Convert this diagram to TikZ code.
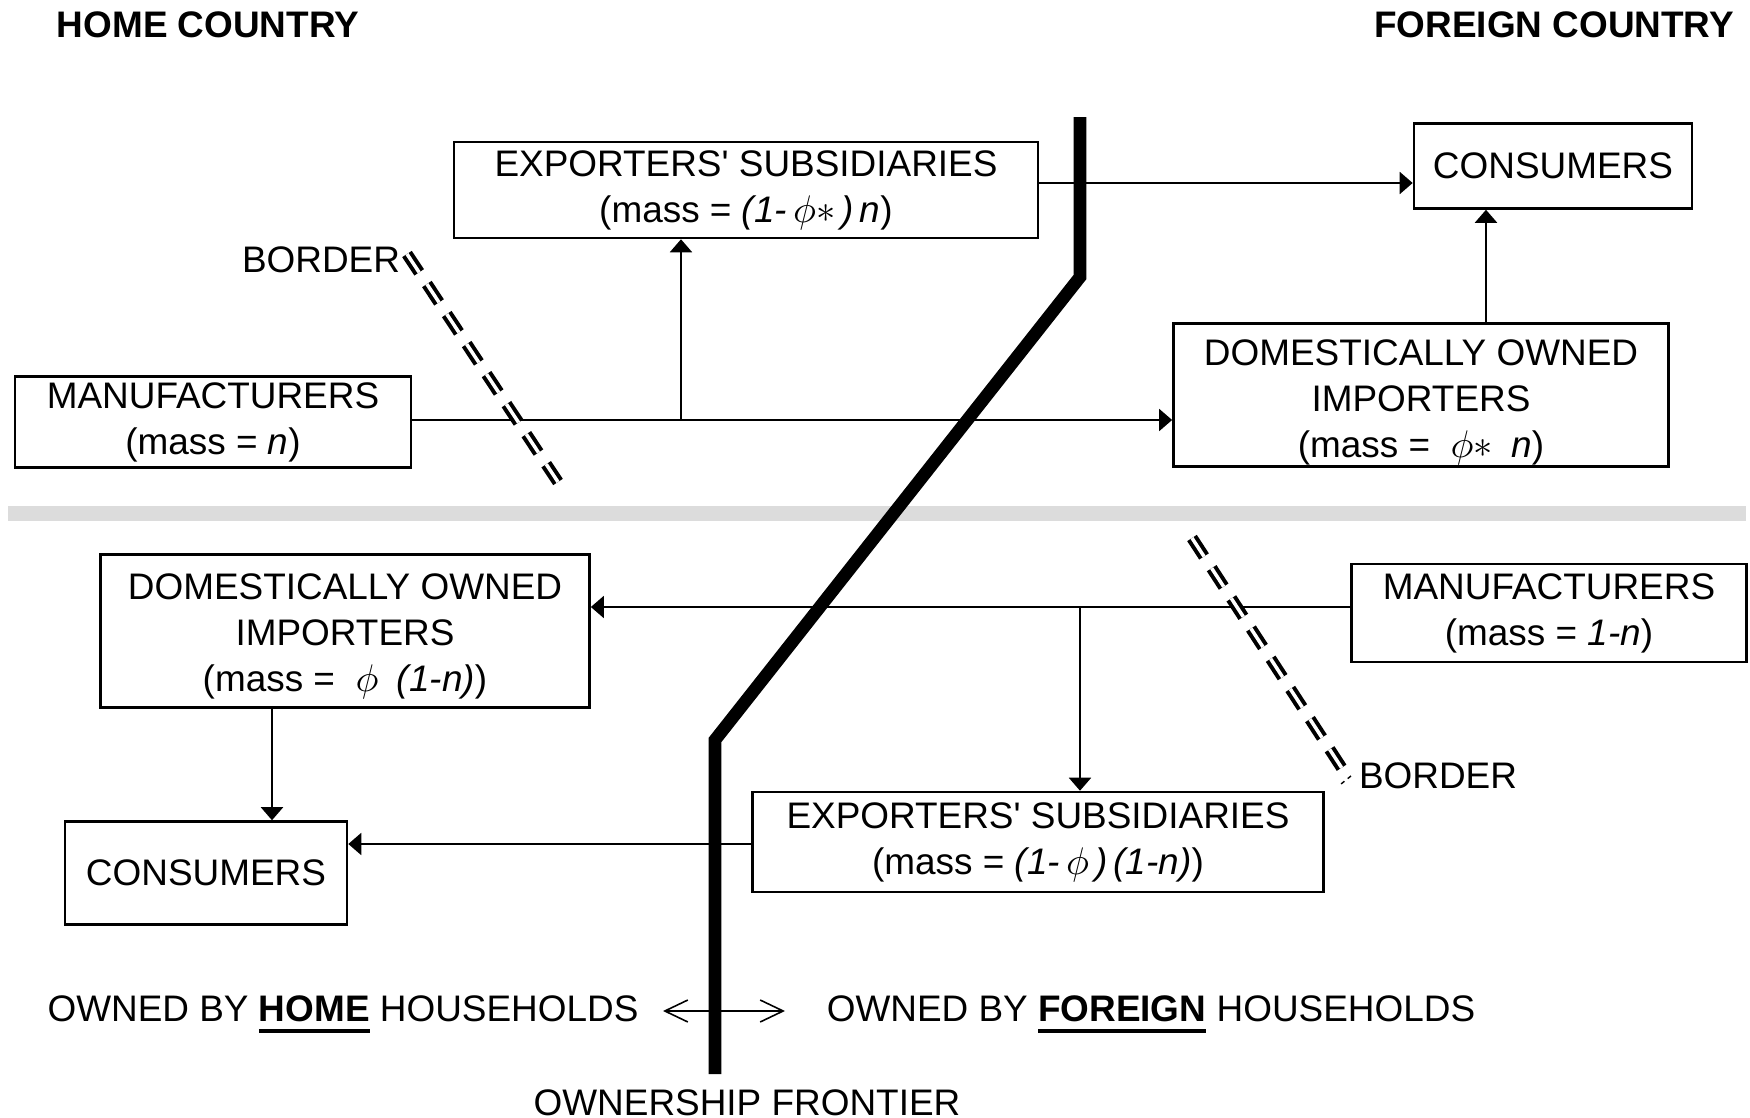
\documentclass[tikz,border=0pt]{standalone}
\usepackage{fontspec}
\setmainfont{Liberation Sans}
\usepackage{tikz}
\usetikzlibrary{arrows.meta,calc}
\definecolor{band}{RGB}{220,220,220}
\newcommand{\ownerul}[1]{\textbf{\setbox0\hbox{#1}\rlap{\rule[-3.1pt]{\wd0}{1.1pt}}\box0}}
\tikzset{firm/.style={draw,rectangle,line width=0.7pt,align=center,inner sep=0pt}}

\begin{document}
\begin{tikzpicture}[x=0.01cm, y=-0.01cm, line width=0.57pt, >={Triangle[length=0.13cm,width=0.22cm]}, font=\fontsize{10.5}{13.1}\selectfont]
        \tikzstyle{border}=[double, line width=0.04cm, double distance=0.035cm, dash pattern=on 0.22cm off 0.14cm]
        \tikzstyle{lbl}=[inner sep=0pt, text depth=0pt]
        \useasboundingbox (0,0) rectangle (1750,1118);
        \fill[band] (8,506) rectangle (1746,521);
        \node[lbl] (home) at (208,25) {\bfseries HOME COUNTRY};
        \node[lbl] (foreign) at (1554,25) {\bfseries FOREIGN COUNTRY};
        \node[firm, minimum width=5.84cm, minimum height=0.96cm] (esT) at (746,190) {EXPORTERS\textquotesingle\ SUBSIDIARIES\\(mass = \textit{(1-}\,$\phi{\ast}$\,\textit{)\,n})};
        \node[firm, minimum width=2.78cm, minimum height=0.85cm] (conT) at (1553,166) {CONSUMERS};
        \node[firm, minimum width=3.96cm, minimum height=0.91cm] (mfT) at (213,422) {MANUFACTURERS\\(mass = \textit{n})};
        \node[firm, minimum width=4.95cm, minimum height=1.43cm] (doiT) at (1421,395) {\rule{0pt}{11.7pt}DOMESTICALLY OWNED\\IMPORTERS\\(mass = \;$\phi{\ast}$\enskip\textit{n})};
        \node[firm, minimum width=4.89cm, minimum height=1.53cm] (doiB) at (345,631) {\rule{0pt}{10.5pt}DOMESTICALLY OWNED\\IMPORTERS\\(mass = \;$\phi$\enskip\textit{(1-n)})};
        \node[firm, minimum width=3.95cm, minimum height=0.98cm] (mfB) at (1549,613) {MANUFACTURERS\\(mass = \textit{1-n})};
        \node[firm, minimum width=5.71cm, minimum height=1.00cm] (esB) at (1038,842) {EXPORTERS\textquotesingle\ SUBSIDIARIES\\(mass = \textit{(1-}\,$\phi$\,\textit{)\,(1-n)})};
        \node[firm, minimum width=2.82cm, minimum height=1.03cm] (conB) at (206,873) {CONSUMERS};
        \node[lbl] (borderT) at (321,260) {BORDER};
        \node[lbl] (borderB) at (1438,776) {BORDER};
        \node[lbl] (ownH) at (343,1009) {OWNED BY \ownerul{HOME} HOUSEHOLDS};
        \node[lbl] (ownF) at (1151,1009) {OWNED BY \ownerul{FOREIGN} HOUSEHOLDS};
        \node[lbl] (frontier) at (747,1103) {OWNERSHIP FRONTIER};
        \coordinate (splitT) at (681,420);
        \coordinate (upT) at (1486,0);
        \coordinate (splitB) at (1080,607);
        \coordinate (downB) at (272,0);
        \coordinate (ownL) at (663,1011);
        \coordinate (ownR) at (785,1011);
        \coordinate (borderEnd) at (1341,784);
        \draw[->] (mfT.east |- splitT) -- (doiT.west |- splitT);
        \draw[->] (splitT) -- (splitT |- esT.south);
        \draw[->] (esT.east |- 0,183) -- (conT.west |- 0,183);
        \draw[->] (upT |- doiT.north) -- (upT |- conT.south);
        \draw[->] (mfB.west |- splitB) -- (doiB.east |- splitB);
        \draw[->] (splitB) -- (splitB |- esB.north);
        \draw[->] (esB.west |- 0,844) -- (conB.east |- 0,844);
        \draw[->] (downB |- doiB.south) -- (downB |- conB.north);
        \draw[border] (407,254) -- (558,482);
        \draw[border] (1192,538) -- (1347,776);
        \draw[line width=0.4pt, dash pattern=on 1.2pt off 1.2pt] ([xshift=-2pt]borderB.west) -- (borderEnd);
        \draw[line width=3.6pt] (1080,117) -- (1080,277) -- (715,740) -- (715,1074);
        \draw[{Straight Barb[length=0.23cm,width=0.22cm]}-{Straight Barb[length=0.23cm,width=0.22cm]}, line width=0.45pt] (ownL) -- (ownR);
\end{tikzpicture}
\end{document}
